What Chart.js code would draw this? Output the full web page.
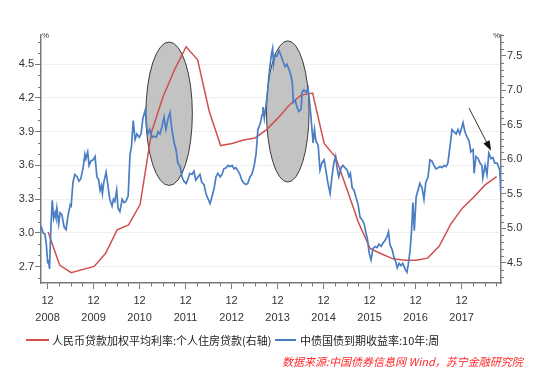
<!DOCTYPE html>
<html>
<head>
<meta charset="utf-8">
<script src="https://cdn.jsdelivr.net/npm/chart.js@4.4.1/dist/chart.umd.min.js"></script>
<style>
  body { margin: 0; background: #fff; }
  #wrap { position: relative; width: 550px; height: 376px; }
  #chart { position: absolute; left: 0; top: 0; }
  .key { position: absolute; height: 0; border-top: 2px solid; }
  .txt { position: absolute; font: 11px "Noto Sans CJK SC", sans-serif; color: #222; line-height: 14px; white-space: nowrap; }
  #src { color: #ff2a2a; font-style: italic; }
</style>
</head>
<body>
<div id="wrap">
  <canvas id="chart" width="550" height="376"></canvas>
  <span class="key" style="left:26px;top:339px;width:23px;border-color:#d0504d"></span>
  <span class="txt" style="left:52px;top:333px">人民币贷款加权平均利率:个人住房贷款(右轴)</span>
  <span class="key" style="left:275px;top:339px;width:21px;border-color:#4a7dc4"></span>
  <span class="txt" style="left:300px;top:333px">中债国债到期收益率:10年:周</span>
  <span class="txt" id="src" style="left:282px;top:354px">数据来源:中国债券信息网 Wind，苏宁金融研究院</span>
</div>
<script>
// mortgage rate, quarterly (right axis)
const mortgageDates = [2008.93, 2009.18, 2009.43, 2009.93, 2010.18, 2010.43, 2010.68, 2010.93,
  2011.18, 2011.43, 2011.68, 2011.93, 2012.18, 2012.43, 2012.68, 2012.93,
  2013.18, 2013.43, 2013.68, 2013.93, 2014.18, 2014.43, 2014.68, 2014.93,
  2015.18, 2015.43, 2015.68, 2015.93, 2016.18, 2016.43, 2016.68, 2016.93,
  2017.18, 2017.43, 2017.68, 2017.93, 2018.18, 2018.43, 2018.68];
const mortgageRate = [4.95, 4.47, 4.36, 4.45, 4.64, 4.98, 5.05, 5.35,
  6.40, 6.91, 7.30, 7.63, 7.44, 6.70, 6.20, 6.23,
  6.28, 6.31, 6.43, 6.60, 6.79, 6.93, 6.96, 6.23,
  6.03, 5.56, 5.08, 4.71, 4.63, 4.56, 4.54, 4.54,
  4.57, 4.74, 5.06, 5.29, 5.45, 5.63, 5.75];

// 10y government bond yield, weekly (left axis)
const bondDates = [2008.78, 2008.82, 2008.86, 2008.89, 2008.92, 2008.94, 2008.96, 2008.99, 2009.02, 2009.05,
  2009.08, 2009.10, 2009.12, 2009.16, 2009.19, 2009.23, 2009.28, 2009.32, 2009.36, 2009.41,
  2009.43, 2009.47, 2009.51, 2009.56, 2009.60, 2009.64, 2009.69, 2009.73, 2009.75, 2009.79,
  2009.82, 2009.86, 2009.91, 2009.95, 2009.99, 2010.03, 2010.06, 2010.09, 2010.11, 2010.14,
  2010.19, 2010.23, 2010.27, 2010.32, 2010.35, 2010.38, 2010.42, 2010.45, 2010.49, 2010.54,
  2010.58, 2010.62, 2010.67, 2010.71, 2010.74, 2010.78, 2010.82, 2010.86, 2010.91, 2010.95,
  2010.99, 2011.04, 2011.07, 2011.10, 2011.14, 2011.19, 2011.23, 2011.28, 2011.32, 2011.36,
  2011.41, 2011.45, 2011.49, 2011.54, 2011.58, 2011.62, 2011.67, 2011.71, 2011.75, 2011.80,
  2011.84, 2011.88, 2011.93, 2011.97, 2012.01, 2012.06, 2012.10, 2012.14, 2012.19, 2012.23,
  2012.27, 2012.32, 2012.36, 2012.41, 2012.45, 2012.49, 2012.54, 2012.58, 2012.62, 2012.67,
  2012.71, 2012.75, 2012.80, 2012.84, 2012.88, 2012.93, 2012.97, 2013.01, 2013.06, 2013.10,
  2013.14, 2013.19, 2013.23, 2013.27, 2013.32, 2013.36, 2013.41, 2013.45, 2013.49, 2013.54,
  2013.58, 2013.60, 2013.63, 2013.67, 2013.69, 2013.72, 2013.75, 2013.79, 2013.81, 2013.83,
  2013.86, 2013.90, 2013.95, 2013.99, 2014.04, 2014.08, 2014.12, 2014.17, 2014.21, 2014.24,
  2014.26, 2014.30, 2014.34, 2014.38, 2014.43, 2014.45, 2014.49, 2014.54, 2014.58, 2014.61,
  2014.64, 2014.69, 2014.72, 2014.75, 2014.80, 2014.84, 2014.88, 2014.93, 2014.97, 2015.01,
  2015.06, 2015.10, 2015.14, 2015.18, 2015.21, 2015.25, 2015.30, 2015.34, 2015.38, 2015.43,
  2015.47, 2015.50, 2015.54, 2015.58, 2015.62, 2015.67, 2015.71, 2015.75, 2015.80, 2015.84,
  2015.87, 2015.91, 2015.95, 2015.99, 2016.04, 2016.08, 2016.12, 2016.17, 2016.21, 2016.25,
  2016.30, 2016.33, 2016.36, 2016.41, 2016.45, 2016.49, 2016.52, 2016.56, 2016.60, 2016.64,
  2016.69, 2016.73, 2016.76, 2016.80, 2016.83, 2016.86, 2016.89, 2016.93, 2016.97, 2017.01,
  2017.06, 2017.10, 2017.14, 2017.19, 2017.23, 2017.27, 2017.32, 2017.36, 2017.41, 2017.45,
  2017.49, 2017.54, 2017.58, 2017.62, 2017.67, 2017.71, 2017.75, 2017.80, 2017.84, 2017.88,
  2017.93, 2017.95, 2017.99, 2018.04, 2018.08, 2018.12, 2018.17, 2018.19, 2018.23, 2018.28,
  2018.32, 2018.36, 2018.38, 2018.43, 2018.47, 2018.51, 2018.56, 2018.60, 2018.64, 2018.69,
  2018.73, 2018.75, 2018.77];
const bondYield = [3.06, 3.00, 2.99, 2.90, 2.74, 2.75, 2.68, 3.05, 3.29, 3.13,
  3.18, 3.14, 3.22, 3.08, 3.18, 3.16, 3.05, 3.03, 3.15, 3.25,
  3.24, 3.45, 3.52, 3.50, 3.46, 3.48, 3.58, 3.70, 3.66, 3.72,
  3.60, 3.64, 3.65, 3.68, 3.50, 3.47, 3.38, 3.42, 3.35, 3.45,
  3.54, 3.42, 3.30, 3.24, 3.30, 3.28, 3.38, 3.22, 3.19, 3.30,
  3.27, 3.28, 3.33, 3.70, 3.76, 4.00, 3.83, 3.88, 3.85, 3.88,
  4.02, 4.09, 3.95, 3.88, 3.92, 3.85, 3.86, 3.85, 3.90, 3.88,
  3.95, 4.03, 3.92, 4.02, 4.07, 3.92, 3.80, 3.74, 3.62, 3.59,
  3.50, 3.46, 3.44, 3.48, 3.53, 3.52, 3.55, 3.47, 3.50, 3.52,
  3.45, 3.43, 3.35, 3.30, 3.26, 3.32, 3.40, 3.50, 3.53, 3.50,
  3.52, 3.57, 3.58, 3.60, 3.59, 3.60, 3.57, 3.58, 3.55, 3.52,
  3.47, 3.44, 3.43, 3.44, 3.50, 3.52, 3.60, 3.70, 3.92, 3.97,
  4.05, 4.12, 4.02, 4.15, 4.21, 4.35, 4.48, 4.60, 4.64, 4.50,
  4.58, 4.57, 4.62, 4.58, 4.52, 4.48, 4.50, 4.45, 4.40, 4.33,
  4.16, 4.18, 4.12, 4.08, 4.10, 4.25, 4.27, 4.25, 4.29, 4.18,
  4.05, 3.80, 3.92, 3.82, 3.78, 3.56, 3.62, 3.65, 3.55, 3.45,
  3.35, 3.50, 3.62, 3.68, 3.58, 3.50, 3.58, 3.60, 3.58, 3.56,
  3.50, 3.53, 3.40, 3.38, 3.32, 3.25, 3.14, 3.12, 3.08, 3.00,
  2.95, 2.82, 2.76, 2.86, 2.88, 2.87, 2.90, 2.88, 2.91, 2.93,
  2.97, 3.01, 2.90, 2.85, 2.78, 2.74, 2.69, 2.73, 2.71, 2.73,
  2.68, 2.65, 2.72, 2.85, 3.02, 3.27, 3.02, 3.32, 3.38, 3.44,
  3.40, 3.30, 3.45, 3.50, 3.65, 3.64, 3.60, 3.57, 3.58, 3.59,
  3.58, 3.60, 3.59, 3.62, 3.78, 3.92, 3.90, 3.88, 3.92, 3.88,
  3.95, 3.98, 3.90, 3.85, 3.82, 3.72, 3.74, 3.53, 3.68, 3.66,
  3.62, 3.60, 3.49, 3.60, 3.52, 3.71, 3.66, 3.67, 3.62, 3.62,
  3.58, 3.55, 3.36];

const leftTicks = [2.7, 3.0, 3.3, 3.6, 3.9, 4.2, 4.5];
const rightTicks = [4.5, 5.0, 5.5, 6.0, 6.5, 7.0, 7.5];
const tickYears = [2008, 2009, 2010, 2011, 2012, 2013, 2014, 2015, 2016, 2017];
const tickMonth = "12";

// highlighted zones (x in years, y on left axis) and the arrow
const ellipses = [
  { x: 2011.56, y: 4.06, rx: 0.505, ry: 0.638 },
  { x: 2014.14, y: 4.08, rx: 0.463, ry: 0.628 }
];
const arrow = { x1: 2018.08, y1: 4.11, x2: 2018.56, y2: 3.73 };

function toPoints(xs, ys) {
  return xs.map((x, i) => ({ x: x, y: ys[i] }));
}

const axisColor = '#7a7a7a';
const tickFont = { family: 'Liberation Sans', size: 11 };

const extras = {
  id: 'extras',
  beforeDatasetsDraw(chart) {
    const { ctx, scales: { x, y } } = chart;
    ctx.save();
    ellipses.forEach(e => {
      const cx = x.getPixelForValue(e.x), cy = y.getPixelForValue(e.y);
      const rx = x.getPixelForValue(e.x + e.rx) - cx;
      const ry = cy - y.getPixelForValue(e.y + e.ry);
      ctx.beginPath();
      ctx.ellipse(cx, cy, rx, ry, 0, 0, Math.PI * 2);
      ctx.fillStyle = '#c3c3c3';
      ctx.fill();
      ctx.lineWidth = 1;
      ctx.strokeStyle = '#3a3a3a';
      ctx.stroke();
    });
    ctx.restore();
  },
  afterDraw(chart) {
    const { ctx, scales: { x, y, y1 } } = chart;
    ctx.save();
    // minor ticks
    ctx.strokeStyle = axisColor;
    ctx.lineWidth = 1;
    ctx.beginPath();
    for (let k = 26; k <= 47; k++) {
      if ((k - 27) % 3 === 0) continue;
      const v = k / 10;
      if (v < y.min || v > y.max) continue;
      const py = Math.round(y.getPixelForValue(v)) + 0.5;
      ctx.moveTo(x.left - 3, py); ctx.lineTo(x.left, py);
    }
    for (let k = 43; k <= 78; k++) {
      if (k % 5 === 0) continue;
      const v = k / 10;
      if (v < y1.min || v > y1.max) continue;
      const py = Math.round(y1.getPixelForValue(v)) + 0.5;
      ctx.moveTo(x.right, py); ctx.lineTo(x.right + 3, py);
    }
    for (let k = -1; k <= 40; k++) {
      if (k % 4 === 0) continue;
      const t = tickYears[0] + 11 / 12 + k * 0.25;
      if (t < x.min || t > x.max) continue;
      const px = Math.round(x.getPixelForValue(t)) + 0.5;
      ctx.moveTo(px, y.bottom); ctx.lineTo(px, y.bottom + 3.5);
    }
    ctx.stroke();

    // unit marks
    ctx.fillStyle = '#333';
    ctx.font = '8px "Liberation Sans"';
    ctx.textBaseline = 'middle';
    ctx.textAlign = 'left';
    ctx.fillText('%', x.left + 1, y.top + 1);
    ctx.textAlign = 'right';
    ctx.fillText('%', x.right - 1, y.top + 1);

    // arrow
    const ax1 = x.getPixelForValue(arrow.x1), ay1 = y.getPixelForValue(arrow.y1);
    const ax2 = x.getPixelForValue(arrow.x2), ay2 = y.getPixelForValue(arrow.y2);
    const ang = Math.atan2(ay2 - ay1, ax2 - ax1);
    const hl = 10, hw = 3.5;
    const bx = ax2 - hl * Math.cos(ang), by = ay2 - hl * Math.sin(ang);
    ctx.strokeStyle = '#333';
    ctx.lineWidth = 1;
    ctx.beginPath();
    ctx.moveTo(ax1, ay1); ctx.lineTo(bx, by);
    ctx.stroke();
    ctx.fillStyle = '#111';
    ctx.beginPath();
    ctx.moveTo(ax2, ay2);
    ctx.lineTo(bx + hw * Math.sin(ang), by - hw * Math.cos(ang));
    ctx.lineTo(bx - hw * Math.sin(ang), by + hw * Math.cos(ang));
    ctx.closePath();
    ctx.fill();
    ctx.restore();
  }
};

new Chart(document.getElementById('chart'), {
  type: 'line',
  data: {
    datasets: [
      {
        label: '中债国债到期收益率:10年:周',
        data: toPoints(bondDates, bondYield),
        yAxisID: 'y',
        borderColor: '#4a7dc4',
        borderWidth: 1.7,
        pointRadius: 0,
        tension: 0
      },
      {
        label: '人民币贷款加权平均利率:个人住房贷款(右轴)',
        data: toPoints(mortgageDates, mortgageRate),
        yAxisID: 'y1',
        borderColor: '#d0504d',
        borderWidth: 1.5,
        pointRadius: 0,
        tension: 0
      }
    ]
  },
  options: {
    responsive: false,
    animation: false,
    layout: { padding: { top: 35, left: 0, right: 0, bottom: 0 } },
    plugins: { legend: { display: false }, tooltip: { enabled: false } },
    scales: {
      x: {
        type: 'linear',
        min: 2008.775,
        max: 2018.775,
        afterBuildTicks: s => { s.ticks = tickYears.map(yr => ({ value: yr + 11 / 12 })); },
        afterFit: s => { s.height = 93; },
        ticks: {
          autoSkip: false,
          maxRotation: 0,
          padding: 3,
          color: '#333',
          font: { family: 'Liberation Sans', size: 11, lineHeight: 1.55 },
          callback: v => [tickMonth, String(Math.floor(v))]
        },
        grid: { drawOnChartArea: false, tickLength: 6, tickColor: axisColor },
        border: { color: axisColor, width: 1.5 }
      },
      y: {
        position: 'left',
        min: 2.555,
        max: 4.76,
        afterBuildTicks: s => { s.ticks = leftTicks.map(v => ({ value: v })); },
        afterFit: s => { s.width = 41; },
        ticks: { padding: 1, color: '#333', font: tickFont, callback: v => v.toFixed(1) },
        grid: { color: '#efefef', tickLength: 6, tickColor: axisColor },
        border: { color: axisColor, width: 1.5 }
      },
      y1: {
        position: 'right',
        min: 4.21,
        max: 7.80,
        afterBuildTicks: s => { s.ticks = rightTicks.map(v => ({ value: v })); },
        afterFit: s => { s.width = 49; },
        ticks: { padding: 1, color: '#333', font: tickFont, callback: v => v.toFixed(1) },
        grid: { drawOnChartArea: false, tickLength: 5, tickColor: axisColor },
        border: { color: axisColor, width: 1.5 }
      }
    }
  },
  plugins: [extras]
});
</script>
</body>
</html>
